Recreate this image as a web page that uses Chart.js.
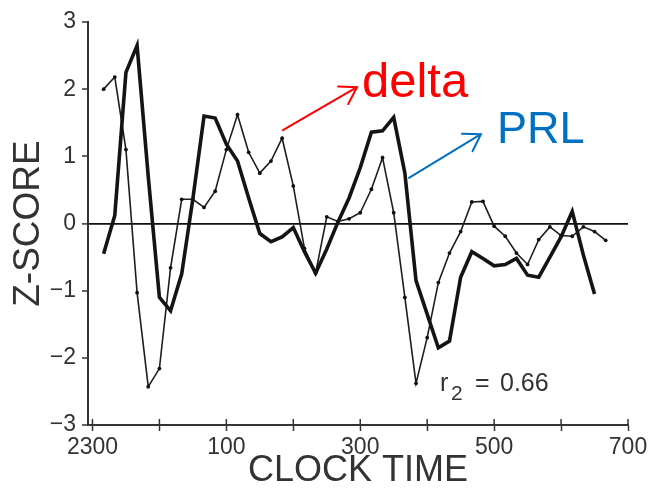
<!DOCTYPE html>
<html>
<head>
<meta charset="utf-8">
<script src="https://cdn.jsdelivr.net/npm/chart.js@4/dist/chart.umd.min.js"></script>
<style>
  html, body { margin: 0; padding: 0; background: #fff; }
  #wrap { width: 652px; height: 495px; }
</style>
</head>
<body>
<div id="wrap"><canvas id="chart" width="652" height="495"></canvas></div>
<script>
// Sampling times, minutes after 23:00 (one sample every 10 minutes)
const sampleMinutes = [10, 20, 30, 40, 50, 60, 70, 80, 90, 100, 110, 120, 130, 140, 150, 160,
  170, 180, 190, 200, 210, 220, 230, 240, 250, 260, 270, 280, 290, 300, 310, 320, 330, 340,
  350, 360, 370, 380, 390, 400, 410, 420, 430, 440, 450, 460];

// Hourly tick marks on the time axis and the clock labels printed under them
const hourMarks = [0, 60, 120, 180, 240, 300, 360, 420, 480];
const hourLabels = { 0: '2300', 120: '100', 240: '300', 360: '500', 480: '700' };

// Prolactin z-scores (heavy line), 23:10 .. 06:30
const prlValues = [-0.45, 0.12, 2.25, 2.65, 0.7, -1.1, -1.3, -0.75, 0.37, 1.6, 1.57, 1.18,
  0.93, 0.38, -0.15, -0.27, -0.2, -0.06, -0.42, -0.74, -0.38, 0.02, 0.38, 0.83, 1.36, 1.38,
  1.58, 0.75, -0.85, -1.35, -1.85, -1.75, -0.8, -0.42, -0.52, -0.63, -0.61, -0.52, -0.77,
  -0.8, -0.5, -0.2, 0.18, -0.47, -1.05];

// Delta-wave activity z-scores (light line with dots), 23:10 .. 06:40
const deltaValues = [2.0, 2.18, 1.1, -1.03, -2.43, -2.16, -0.66, 0.36, 0.36, 0.24, 0.48, 1.1,
  1.62, 1.06, 0.75, 0.93, 1.27, 0.56, -0.37, -0.74, 0.1, 0.03, 0.07, 0.16, 0.51, 0.98, 0.16,
  -1.1, -2.38, -1.7, -0.88, -0.44, -0.12, 0.32, 0.33, -0.04, -0.19, -0.44, -0.61, -0.24,
  -0.05, -0.18, -0.19, -0.05, -0.12, -0.25];

const correlationText = '0.66';

const toPoints = (vals) => vals.map((v, i) => ({ x: sampleMinutes[i], y: v }));

const FONT = '"Liberation Sans", Arial, sans-serif';
const INK = '#333';

// Small arrow with an open head
function drawArrow(ctx, x1, y1, x2, y2, color) {
  const ang = Math.atan2(y2 - y1, x2 - x1);
  const len = 19, spread = Math.PI * 0.18;
  ctx.save();
  ctx.strokeStyle = color;
  ctx.lineWidth = 2;
  ctx.lineCap = 'round';
  ctx.beginPath();
  ctx.moveTo(x1, y1);
  ctx.lineTo(x2, y2);
  ctx.moveTo(x2 - len * Math.cos(ang - spread), y2 - len * Math.sin(ang - spread));
  ctx.lineTo(x2, y2);
  ctx.lineTo(x2 - len * Math.cos(ang + spread), y2 - len * Math.sin(ang + spread));
  ctx.stroke();
  ctx.restore();
}

// Inward halves of the hourly tick marks
const innerTicks = {
  id: 'innerTicks',
  afterDraw(chart) {
    const { ctx, scales: { x } } = chart;
    ctx.save();
    ctx.strokeStyle = INK;
    ctx.lineWidth = 1.5;
    hourMarks.forEach((v) => {
      const px = x.getPixelForValue(v);
      ctx.beginPath();
      ctx.moveTo(px, x.top);
      ctx.lineTo(px, x.top - 6);
      ctx.stroke();
    });
    ctx.restore();
  }
};

// Series labels, pointer arrows and the correlation note
const callouts = {
  id: 'callouts',
  afterDraw(chart) {
    const { ctx, scales: { x, y } } = chart;
    const P = (m, v) => [x.getPixelForValue(m), y.getPixelForValue(v)];

    const [rt1x, rt1y] = P(170.7, 1.39);
    const [rt2x, rt2y] = P(237.1, 2.03);
    drawArrow(ctx, rt1x, rt1y, rt2x, rt2y, '#ff0000');

    const [bt1x, bt1y] = P(283.7, 0.68);
    const [bt2x, bt2y] = P(348.2, 1.33);
    drawArrow(ctx, bt1x, bt1y, bt2x, bt2y, '#0070c0');

    ctx.save();
    ctx.textAlign = 'left';
    ctx.textBaseline = 'alphabetic';

    const [dx, dy] = P(241.5, 1.88);
    ctx.fillStyle = '#ff0000';
    ctx.font = '49px ' + FONT;
    ctx.fillText('delta', dx, dy);

    const [px, py] = P(362.6, 1.2);
    ctx.fillStyle = '#0070c0';
    ctx.font = '45px ' + FONT;
    ctx.fillText('PRL', px, py);

    const [rx, ry] = P(311.5, -2.5);
    ctx.fillStyle = INK;
    ctx.font = '25px ' + FONT;
    ctx.fillText('r', rx, ry);
    ctx.font = '21px ' + FONT;
    ctx.fillText('2', rx + 11, ry + 9);
    ctx.font = '25px ' + FONT;
    ctx.fillText('=', rx + 35, ry);
    ctx.fillText(correlationText, rx + 60, ry);
    ctx.restore();
  }
};

new Chart(document.getElementById('chart'), {
  type: 'line',
  data: {
    datasets: [
      {
        label: 'PRL',
        data: toPoints(prlValues),
        borderColor: '#141414',
        borderWidth: 3.6,
        pointRadius: 0,
        tension: 0,
        fill: false
      },
      {
        label: 'delta',
        data: toPoints(deltaValues),
        borderColor: '#1e1e1e',
        borderWidth: 1.6,
        pointRadius: 1.9,
        pointBackgroundColor: '#111',
        pointBorderWidth: 0,
        tension: 0,
        fill: false
      }
    ]
  },
  options: {
    responsive: false,
    animation: false,
    events: [],
    layout: { padding: { top: 22, right: 24, left: 0, bottom: 0 } },
    plugins: { legend: { display: false }, tooltip: { enabled: false } },
    scales: {
      x: {
        type: 'linear',
        min: -4,
        max: 480,
        afterBuildTicks(scale) { scale.ticks = hourMarks.map((v) => ({ value: v })); },
        afterFit(scale) { scale.height = 70; },
        border: { color: INK, width: 2 },
        grid: { drawOnChartArea: false, drawTicks: true, tickLength: 6, tickColor: INK, tickWidth: 1.5 },
        ticks: {
          autoSkip: false,
          maxRotation: 0,
          padding: 3,
          color: INK,
          font: { family: FONT, size: 23 },
          callback: (v) => hourLabels[v] ?? ''
        },
        title: {
          display: true,
          text: 'CLOCK TIME',
          color: INK,
          font: { family: FONT, size: 36 },
          padding: { top: 0, bottom: 2 }
        }
      },
      y: {
        min: -3,
        max: 3,
        afterFit(scale) { scale.width = 88; },
        border: { color: INK, width: 2 },
        grid: {
          drawOnChartArea: true,
          drawTicks: true,
          tickLength: 6,
          tickColor: INK,
          tickWidth: 1.5,
          color: (c) => (c.tick && c.tick.value === 0 ? '#111' : 'rgba(0,0,0,0)'),
          lineWidth: (c) => (c.tick && c.tick.value === 0 ? 1.8 : 0)
        },
        ticks: {
          stepSize: 1,
          padding: 6,
          color: INK,
          font: { family: FONT, size: 23 },
          callback: (v) => (v < 0 ? '\u2212' + Math.abs(v) : String(v))
        },
        title: {
          display: true,
          text: 'Z-SCORE',
          color: INK,
          font: { family: FONT, size: 37 },
          padding: { top: 7, bottom: 0 }
        }
      }
    }
  },
  plugins: [innerTicks, callouts]
});
</script>
</body>
</html>
